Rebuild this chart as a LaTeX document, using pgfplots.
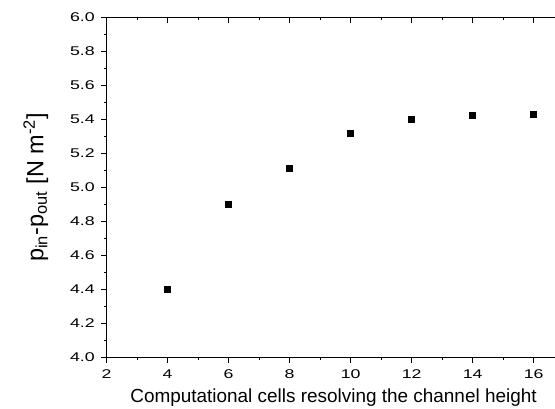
\documentclass[border=0pt]{standalone}
\usepackage{fontspec}
\setmainfont{Liberation Sans}
\usepackage{pgfplots}
\pgfplotsset{compat=1.18}

\begin{document}
\begin{tikzpicture}
  \pgfplotsset{
    common/.style={
      scale only axis,
      at={(0,0)}, anchor=south west,
      width=336.2pt, height=255pt,
      xmin=2, xmax=16.7,
      ymin=4, ymax=6,
      xtick={2,4,...,16},
      minor x tick num=1,
      /pgf/number format/assume math mode=true,
      tick style={black, thin},
      axis line style={black, thin},
      major tick length=4pt,
      minor tick length=2.2pt,
    },
  }
  % main axis: bottom and left lines, ticks outside
  \begin{axis}[
    common,
    axis x line*=bottom,
    axis y line*=left,
    tick align=outside,
    ytick={4,4.2,...,6.01},
    minor y tick num=1,
    yticklabel style={/pgf/number format/.cd, fixed, fixed zerofill, precision=1},
    tick label style={font=\fontsize{9.5}{10}\selectfont, xscale=1.4},
    xticklabel style={yshift=-2pt},
    xlabel={Computational cells resolving the channel height},
    xlabel style={at={(axis description cs:0.506,-0.117)}, anchor=center,
      font=\fontsize{14.2}{16}\selectfont},
    ylabel={p\textsubscript{in}-p\textsubscript{out} [N m\textsuperscript{-2}]},
    ylabel style={at={(axis description cs:-0.158,0.5)}, anchor=center,
      font=\fontsize{17.6}{19}\selectfont},
  ]
    \addplot[only marks, mark=square*, mark size=2.2pt, black] coordinates {
      (4,4.40) (6,4.90) (8,5.11) (10,5.32) (12,5.40) (14,5.425) (16,5.43)
    };
  \end{axis}
  % top line with ticks pointing inward
  \begin{axis}[
    common,
    axis x line*=top,
    axis y line=none,
    tick align=inside,
    xticklabels={},
  ]
  \end{axis}
  \pgfresetboundingbox
  \path[use as bounding box] (-80.0pt,-38.0pt) rectangle (336.2pt,268.0pt);
\end{tikzpicture}
\end{document}
